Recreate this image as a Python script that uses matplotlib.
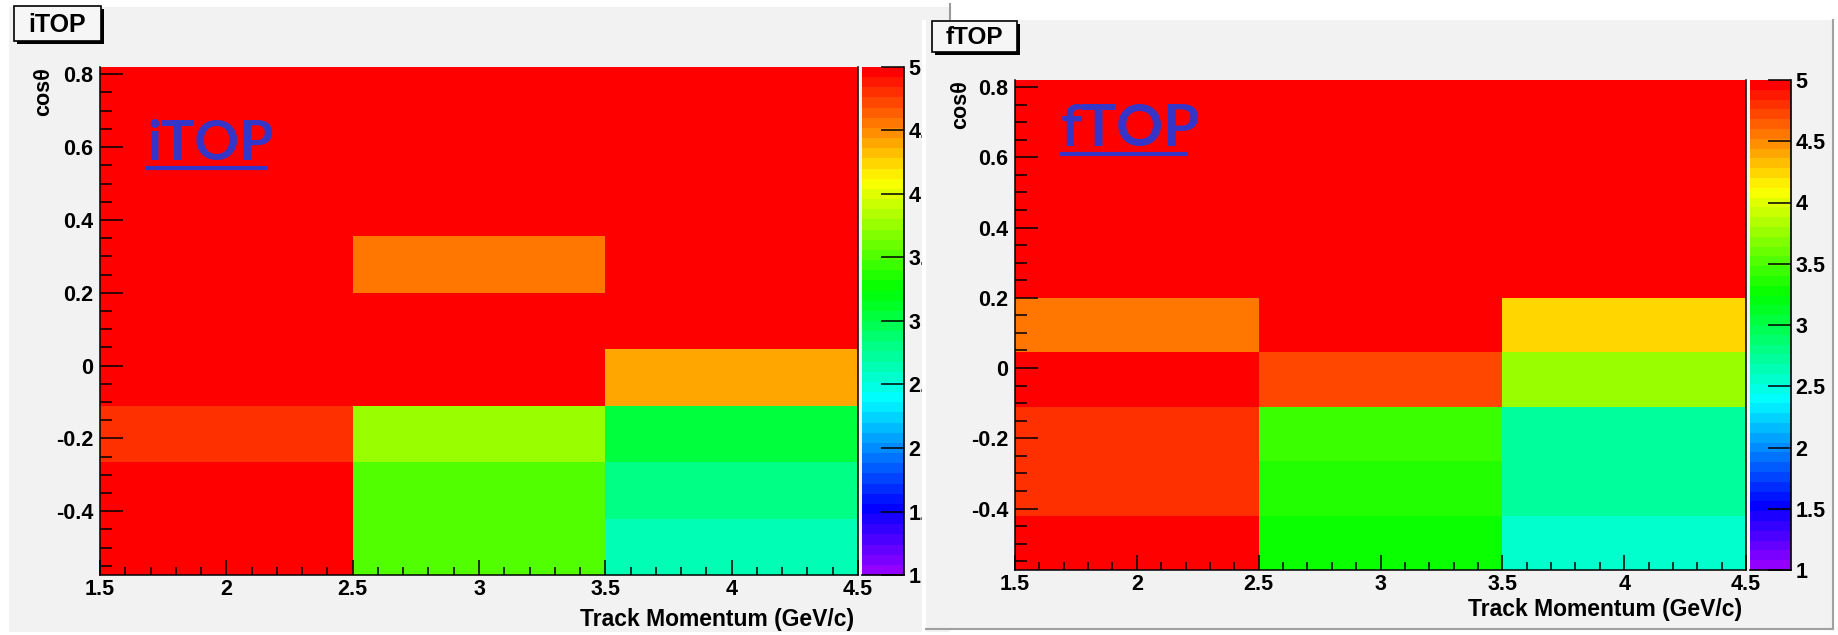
import colorsys
import matplotlib
matplotlib.use('Agg')
import matplotlib.pyplot as plt
from matplotlib.colors import ListedColormap
from matplotlib.patches import Rectangle
from matplotlib.ticker import MultipleLocator, FormatStrFormatter

plt.rcParams['font.family'] = ['Liberation Sans', 'DejaVu Sans']
plt.rcParams['font.weight'] = 'bold'

# bin edges
p_edges = [1.5, 2.5, 3.5, 4.5]
cos_edges = [-0.575, -0.42, -0.265, -0.11, 0.045, 0.2, 0.355, 0.51, 0.665, 0.82]

# rows = cos(theta) bins from bottom to top, cols = momentum bins
itop_vals = [
    [5.00, 3.52, 2.64],
    [5.00, 3.52, 2.80],
    [4.80, 3.76, 3.04],
    [5.00, 5.00, 4.40],
    [5.00, 5.00, 5.00],
    [5.00, 4.55, 5.00],
    [5.00, 5.00, 5.00],
    [5.00, 5.00, 5.00],
    [5.00, 5.00, 5.00],
]
ftop_vals = [
    [5.00, 3.27, 2.56],
    [4.80, 3.35, 2.72],
    [4.80, 3.42, 2.72],
    [5.00, 4.70, 3.76],
    [4.55, 5.00, 4.24],
    [5.00, 5.00, 5.00],
    [5.00, 5.00, 5.00],
    [5.00, 5.00, 5.00],
    [5.00, 5.00, 5.00],
]
cbar_ticks = [1, 1.5, 2, 2.5, 3, 3.5, 4, 4.5, 5]

# ROOT pretty palette: 50 hues, violet -> red
root_cols = [colorsys.hls_to_rgb((280 - (i + 1) * 5.6) / 360, 0.5, 1.0) for i in range(50)]
cmap = ListedColormap(root_cols)

W, H = 1838, 635
fig = plt.figure(figsize=(W / 100, H / 100), dpi=100)
fig.patch.set_facecolor('white')


def box(x0, y0, x1, y1):
    # pixel box (top-left origin) -> figure fraction
    return [x0 / W, 1 - y1 / H, (x1 - x0) / W, (y1 - y0) / H]


def background(z):
    bg = fig.add_axes([0, 0, 1, 1], zorder=z)
    bg.set_xlim(0, W)
    bg.set_ylim(H, 0)
    bg.axis('off')
    return bg


def title_box(bg, x0, y0, w, h, txt, size):
    bg.add_patch(Rectangle((x0 + 3, y0 + 3), w, h, fc='black', ec='none'))
    bg.add_patch(Rectangle((x0, y0), w, h, fc='#f6f6f6', ec='black', lw=1.2))
    bg.text(x0 + w / 2, y0 + h / 2 + 1, txt, ha='center', va='center', fontsize=size)


def draw_panel(ax, cax, vals, name, name_pos, name_size, line_pos, xlab_y):
    mesh = ax.pcolormesh(p_edges, cos_edges, vals, cmap=cmap, vmin=1, vmax=5)
    ax.set_xlim(1.5, 4.5)
    ax.set_ylim(-0.575, 0.82)
    ax.xaxis.set_major_locator(MultipleLocator(0.5))
    ax.xaxis.set_minor_locator(MultipleLocator(0.1))
    ax.yaxis.set_major_locator(MultipleLocator(0.2))
    ax.yaxis.set_minor_locator(MultipleLocator(0.05))
    ax.xaxis.set_major_formatter(FormatStrFormatter('%g'))
    ax.yaxis.set_major_formatter(FormatStrFormatter('%g'))
    ax.tick_params(which='both', direction='in', top=False, right=False, width=1.1, labelsize=15.5)
    ax.tick_params(axis='y', which='major', length=16.5, pad=5)
    ax.tick_params(axis='y', which='minor', length=8.5)
    ax.tick_params(axis='x', which='major', length=11, pad=3)
    ax.tick_params(axis='x', which='minor', length=6)
    ax.spines['top'].set_visible(False)
    for s in ['left', 'bottom', 'right']:
        ax.spines[s].set_linewidth(1.1)
    ax.text(0.995, xlab_y, 'Track Momentum (GeV/c)', transform=ax.transAxes,
            ha='right', va='top', fontsize=16.5)
    ax.text(-0.075, 1.0, 'cosθ', transform=ax.transAxes, rotation=90,
            ha='center', va='top', fontsize=15.5)
    ax.text(name_pos[0], name_pos[1], name, transform=ax.transAxes, va='baseline',
            fontsize=name_size, family='Lato', weight='bold', color='#3535c8')
    ax.plot(line_pos[0], line_pos[1], transform=ax.transAxes, color='#3535c8',
            lw=3, solid_capstyle='butt')

    cb = fig.colorbar(mesh, cax=cax, ticks=cbar_ticks)
    cb.outline.set_visible(False)
    cb.minorticks_off()
    cax.yaxis.set_ticks_position('right')
    cax.yaxis.set_major_formatter(FormatStrFormatter('%g'))
    cax.tick_params(direction='in', length=16.5, width=1.1, labelsize=15.5, pad=3)
    cax.plot([1, 1], [0, 1], transform=cax.transAxes, color='black', lw=1.2, clip_on=False)
    cax.plot([0, 1], [0, 0], transform=cax.transAxes, color='black', lw=1.2, clip_on=False)


# left canvas (iTOP)
bgL = background(0)
bgL.add_patch(Rectangle((9, 7), 941, 625, fc='#f2f2f2', ec='none'))
bgL.plot([950, 950], [4, 20], color='#9a9a9a', lw=1.5)
title_box(bgL, 14, 6, 87, 35, 'iTOP', 18)

axL = fig.add_axes(box(100, 67, 858, 575), zorder=1)
caxL = fig.add_axes(box(862, 67, 904, 575), zorder=1)
draw_panel(axL, caxL, itop_vals, 'iTOP', (0.062, 0.817), 40,
           ([0.059, 0.222], [0.801, 0.801]), -0.064)

# right canvas (fTOP), drawn over the left one
bgR = background(2)
bgR.add_patch(Rectangle((922, 20), 4, 612, fc='white', ec='none'))
bgR.add_patch(Rectangle((926, 20), 907, 609, fc='#f2f2f2', ec='none'))
bgR.plot([1833, 1833], [20, 629], color='#a0a0a0', lw=1.5)
bgR.plot([926, 1833], [629, 629], color='#a0a0a0', lw=1.5)
title_box(bgR, 932, 21, 85, 31, 'fTOP', 17.5)

axR = fig.add_axes(box(1015, 80, 1746, 570), zorder=3)
caxR = fig.add_axes(box(1750, 80, 1791, 570), zorder=3)
draw_panel(axR, caxR, ftop_vals, 'fTOP', (0.063, 0.865), 42,
           ([0.0616, 0.2367], [0.850, 0.850]), -0.058)

fig.savefig('out.png', dpi=100, facecolor='white')
